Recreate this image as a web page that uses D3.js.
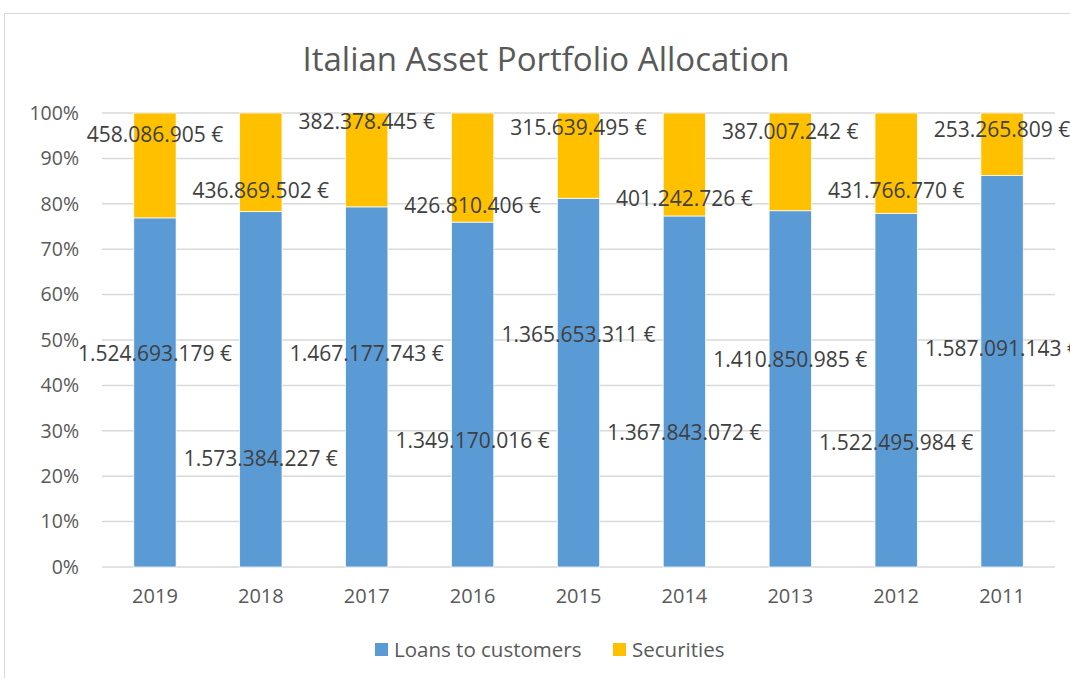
<!DOCTYPE html>
<html>
<head>
<meta charset="utf-8">
<script src="https://cdn.jsdelivr.net/npm/d3@7"></script>
<style>
  body { margin: 0; background: #fff; }
  svg text { font-family: "Open Sans", sans-serif; }
</style>
</head>
<body>
<div id="chart"></div>
<script>
// data
const years = ["2019", "2018", "2017", "2016", "2015", "2014", "2013", "2012", "2011"];
const loans = [1524693179, 1573384227, 1467177743, 1349170016, 1365653311, 1367843072, 1410850985, 1522495984, 1587091143];
const securities = [458086905, 436869502, 382378445, 426810406, 315639495, 401242726, 387007242, 431766770, 253265809];
const yTicks = [0, 0.1, 0.2, 0.3, 0.4, 0.5, 0.6, 0.7, 0.8, 0.9, 1];

// where the labels were dragged to in the original (share of axis)
const loanLabelAt = [0.471, 0.238, 0.471, 0.278, 0.511, 0.295, 0.456, 0.273, 0.48];
const secLabelAt = [0.952, 0.828, 0.98, 0.795, 0.967, 0.811, 0.96, 0.828, 0.963];

const width = 1070, height = 678;
const plotLeft = 102, plotRight = 1055, plotTop = 113, plotBottom = 567;
const blue = "#5b9bd5", yellow = "#ffc000";

const svg = d3.select("#chart").append("svg")
  .attr("width", width)
  .attr("height", height);

// chart border
svg.append("rect")
  .attr("x", 4.5).attr("y", 13.5)
  .attr("width", 1100).attr("height", 700)
  .attr("fill", "#fff")
  .attr("stroke", "#d9d9d9");

svg.append("text")
  .attr("x", 546).attr("y", 71)
  .attr("text-anchor", "middle")
  .attr("font-size", 33)
  .attr("fill", "#595959")
  .text("Italian Asset Portfolio Allocation");

const x = d3.scaleBand().domain(years).range([plotLeft, plotRight])
  .paddingInner(0.6).paddingOuter(0.3);
const y = d3.scaleLinear().domain([0, 1]).range([plotBottom, plotTop]);

// grid
svg.append("g").selectAll("line")
  .data(yTicks)
  .enter()
  .append("line")
  .attr("x1", plotLeft).attr("x2", plotRight)
  .attr("y1", d => y(d)).attr("y2", d => y(d))
  .attr("stroke", "#d9d9d9")
  .attr("stroke-width", 1.5);

// y axis labels
const yAxis = svg.append("g")
  .attr("transform", `translate(${plotLeft - 23},0)`)
  .call(d3.axisLeft(y).tickValues(yTicks).tickFormat(d3.format(".0%")).tickSize(0));
yAxis.select(".domain").remove();
yAxis.selectAll("text")
  .attr("x", 0)
  .attr("font-size", 19.5)
  .attr("font-family", "Open Sans, sans-serif")
  .attr("fill", "#595959");

// x axis labels
const xAxis = svg.append("g")
  .attr("transform", `translate(0,${plotBottom + 19})`)
  .call(d3.axisBottom(x).tickSize(0));
xAxis.select(".domain").remove();
xAxis.selectAll("text")
  .attr("font-size", 20)
  .attr("font-family", "Open Sans, sans-serif")
  .attr("fill", "#595959");

const rows = years.map((yr, i) => {
  const total = loans[i] + securities[i];
  return { year: yr, i: i, loan: loans[i] / total, sec: securities[i] / total };
});

// loans
svg.append("g").selectAll("rect")
  .data(rows)
  .enter()
  .append("rect")
  .attr("x", d => x(d.year))
  .attr("width", x.bandwidth())
  .attr("y", d => y(d.loan))
  .attr("height", d => y(0) - y(d.loan))
  .attr("fill", blue)
  .attr("stroke", "#fff")
  .attr("stroke-width", 0.75);

// securities
svg.append("g").selectAll("rect")
  .data(rows)
  .enter()
  .append("rect")
  .attr("x", d => x(d.year))
  .attr("width", x.bandwidth())
  .attr("y", d => y(1))
  .attr("height", d => y(d.loan) - y(1))
  .attr("fill", yellow)
  .attr("stroke", "#fff")
  .attr("stroke-width", 0.75);

const fmt = v => d3.format(",")(v).replace(/,/g, ".") + " €";

// data labels
const labels = svg.append("g")
  .attr("font-size", 21)
  .attr("fill", "#404040")
  .attr("text-anchor", "middle");

labels.selectAll(".lab-loan")
  .data(rows)
  .enter()
  .append("text")
  .attr("class", "lab-loan")
  .attr("x", d => x(d.year) + x.bandwidth() / 2)
  .attr("y", d => y(loanLabelAt[d.i]))
  .attr("dy", "0.35em")
  .text(d => fmt(loans[d.i]));

labels.selectAll(".lab-sec")
  .data(rows)
  .enter()
  .append("text")
  .attr("class", "lab-sec")
  .attr("x", d => x(d.year) + x.bandwidth() / 2)
  .attr("y", d => y(secLabelAt[d.i]))
  .attr("dy", "0.35em")
  .text(d => fmt(securities[d.i]));

// legend
const legend = [
  { name: "Loans to customers", color: blue, x: 375 },
  { name: "Securities", color: yellow, x: 613 }
];
const lg = svg.append("g").selectAll("g")
  .data(legend)
  .enter()
  .append("g")
  .attr("transform", d => `translate(${d.x},650)`);
lg.append("rect")
  .attr("x", 0).attr("y", -7)
  .attr("width", 13).attr("height", 13)
  .attr("fill", d => d.color);
lg.append("text")
  .attr("x", 19)
  .attr("dy", "0.35em")
  .attr("font-size", 20.5)
  .attr("fill", "#595959")
  .text(d => d.name);
</script>
</body>
</html>
